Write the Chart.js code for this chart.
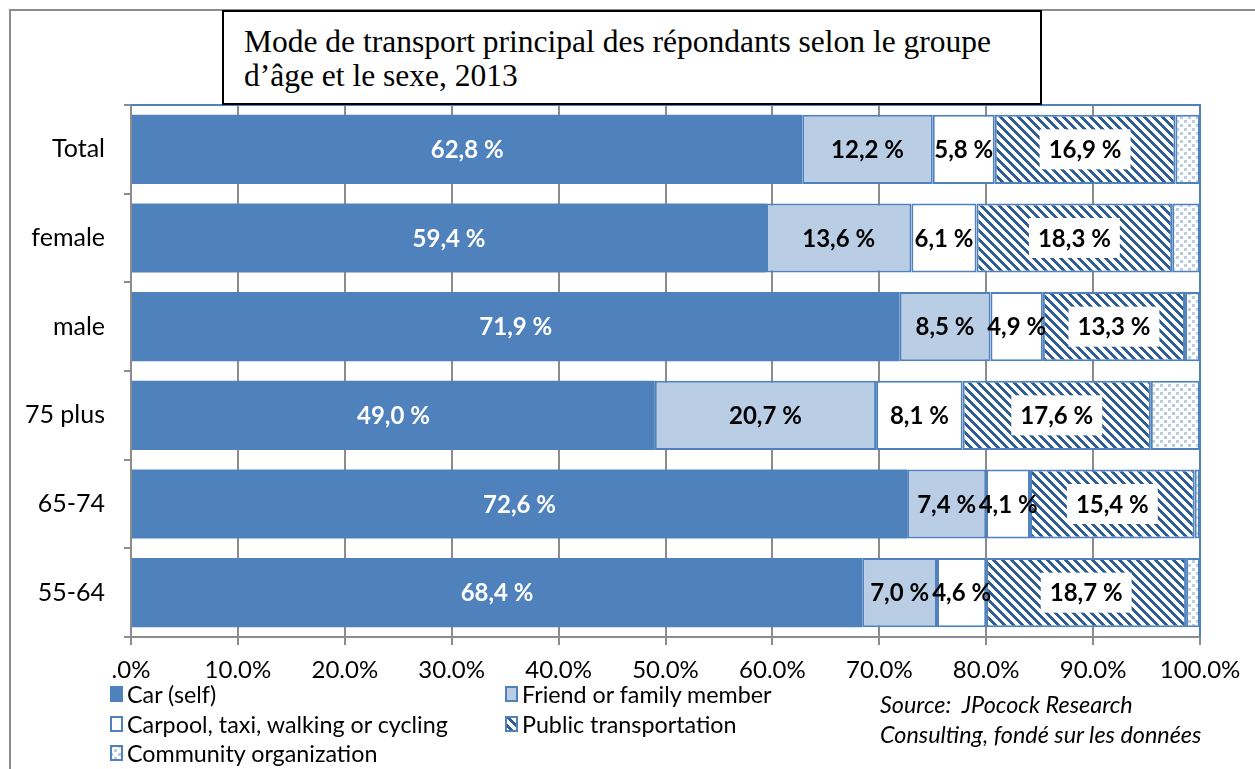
<!DOCTYPE html>
<html>
<head>
<meta charset="utf-8">
<script src="https://cdn.jsdelivr.net/npm/chart.js@4.4.1/dist/chart.umd.min.js"></script>
<style>
  body { margin: 0; background: #fff; }
  #wrap { position: relative; width: 1255px; height: 769px; overflow: hidden; }
  #frame { position: absolute; left: 9px; top: 9px; width: 1300px; height: 800px; border: 2px solid #8c8c8c; }
  #chart { position: absolute; left: 0; top: 0; }
  #title {
    position: absolute; left: 222px; top: 10px; width: 820px; height: 95px;
    box-sizing: border-box; border: 2px solid #000; background: #fff;
    font: 31.5px 'Liberation Serif', serif; line-height: 34px; padding: 13px 0 0 20px; color: #000;
    white-space: nowrap;
  }
  .leg { position: absolute; font: 23.3px Lato, sans-serif; color: #000; white-space: nowrap; line-height: 26px; }
  .leg canvas { position: absolute; left: -17px; top: 5px; }
  .src { position: absolute; left: 880px; font: italic 23.4px Lato, sans-serif; color: #000; white-space: nowrap; }
</style>
</head>
<body>
<div id="wrap">
  <div id="frame"></div>
  <canvas id="chart" width="1255" height="769"></canvas>
  <div id="title">Mode de transport principal des répondants selon le groupe<br>d’âge et le sexe, 2013</div>
  <div id="legend"></div>
  <div class="src" style="top:690px">Source:&nbsp; JPocock Research</div>
  <div class="src" style="top:720px">Consulting, fondé sur les données</div>
</div>
<script>
const categories = ['Total', 'female', 'male', '75 plus', '65-74', '55-64'];
const seriesNames = ['Car (self)', 'Friend or family member', 'Carpool, taxi, walking or cycling', 'Public transportation', 'Community organization'];
const carSelf = [62.8, 59.4, 71.9, 49.0, 72.6, 68.4];
const friendFamily = [12.2, 13.6, 8.5, 20.7, 7.4, 7.0];
const carpoolTaxi = [5.8, 6.1, 4.9, 8.1, 4.1, 4.6];
const publicTransport = [16.9, 18.3, 13.3, 17.6, 15.4, 18.7];
const communityOrg = [2.3, 2.6, 1.4, 4.6, 0.5, 1.3];
const tickLabels = ['.0%', '10.0%', '20.0%', '30.0%', '40.0%', '50.0%', '60.0%', '70.0%', '80.0%', '90.0%', '100.0%'];

const blue = '#4f81bd';
const lightBlue = '#b9cde5';
const darkBlue = '#2f5d95';

function stripePattern(ctx) {
    const n = 9;
    const c = document.createElement('canvas');
    c.width = n; c.height = n;
    const p = c.getContext('2d');
    p.fillStyle = '#fff';
    p.fillRect(0, 0, n, n);
    p.fillStyle = darkBlue;
    for (let r = 0; r < n; r++) {
        for (let k = 0; k < 4; k++) {
            p.fillRect((r + k) % n, r, 1, 1);
        }
    }
    return ctx.createPattern(c, 'repeat');
}

function dotPattern(ctx) {
    const c = document.createElement('canvas');
    c.width = 8; c.height = 8;
    const p = c.getContext('2d');
    p.fillStyle = '#fff';
    p.fillRect(0, 0, 8, 8);
    p.fillStyle = lightBlue;
    p.fillRect(0, 0, 3, 3);
    p.fillRect(4, 4, 3, 3);
    return ctx.createPattern(c, 'repeat');
}

const canvas = document.getElementById('chart');
const ctx = canvas.getContext('2d');

const fills = [blue, lightBlue, '#ffffff', stripePattern(ctx), dotPattern(ctx)];
const values = [carSelf, friendFamily, carpoolTaxi, publicTransport, communityOrg];
const labelColors = ['#ffffff', '#000', '#000', '#000', null];

const datasets = values.map((data, i) => ({
    label: seriesNames[i],
    data: data,
    backgroundColor: fills[i],
    borderColor: blue,
    borderWidth: i === 0 ? 0 : 2,
    borderSkipped: false,
    barPercentage: 0.78,
    categoryPercentage: 1,
    labelColor: labelColors[i],
    labelBox: i === 3
}));

// percentage labels centred in each segment
const segmentLabels = {
    id: 'segmentLabels',
    afterDatasetsDraw(chart) {
        const c = chart.ctx;
        c.save();
        c.font = 'bold 24px Lato';
        c.textAlign = 'center';
        c.textBaseline = 'middle';
        chart.data.datasets.forEach((ds, i) => {
            if (!ds.labelColor) return;
            chart.getDatasetMeta(i).data.forEach((bar, j) => {
                const text = ds.data[j].toFixed(1).replace('.', ',') + ' %';
                const cx = (bar.x + bar.base) / 2;
                if (ds.labelBox) {
                    const w = c.measureText(text).width + 18;
                    c.fillStyle = '#fff';
                    c.fillRect(cx - w / 2, bar.y - 20, w, 40);
                }
                c.fillStyle = ds.labelColor;
                c.fillText(text, cx, bar.y + 1);
            });
        });
        c.restore();
    }
};

// blue top and right edge of the plot area
const plotEdge = {
    id: 'plotEdge',
    afterDatasetsDraw(chart) {
        const a = chart.chartArea;
        const c = chart.ctx;
        c.save();
        c.strokeStyle = blue;
        c.lineWidth = 2;
        c.beginPath();
        c.moveTo(a.left, a.top);
        c.lineTo(a.right, a.top);
        c.lineTo(a.right, a.bottom);
        c.stroke();
        c.restore();
    }
};

new Chart(ctx, {
    type: 'bar',
    data: { labels: categories, datasets: datasets },
    options: {
        responsive: false,
        animation: false,
        indexAxis: 'y',
        layout: { padding: { top: 105, left: 0, right: 55, bottom: 82 } },
        plugins: {
            legend: { display: false },
            tooltip: { enabled: false }
        },
        scales: {
            x: {
                stacked: true,
                min: 0,
                max: 100,
                afterFit: scale => { scale.height = 50; },
                afterBuildTicks: scale => {
                    scale.ticks = tickLabels.map((t, i) => ({ value: i * 10 }));
                },
                ticks: {
                    autoSkip: false,
                    maxRotation: 0,
                    padding: 11,
                    color: '#000',
                    font: { family: 'Lato', size: 24 },
                    callback: (v, i) => tickLabels[i]
                },
                grid: { color: '#8c8c8c', lineWidth: 2, tickLength: 8 },
                border: { color: '#8c8c8c', width: 2 }
            },
            y: {
                stacked: true,
                afterFit: scale => { scale.width = 131; },
                ticks: {
                    padding: 19,
                    color: '#000',
                    font: { family: 'Lato', size: 25 }
                },
                grid: { drawOnChartArea: false, color: '#8c8c8c', lineWidth: 2, tickLength: 7, offset: true },
                border: { color: '#8c8c8c', width: 2 }
            }
        }
    },
    plugins: [segmentLabels, plotEdge]
});

// legend laid out in two columns like the original
const legendPos = [[127, 681], [522, 681], [127, 711], [522, 711], [127, 740]];
const legend = document.getElementById('legend');
seriesNames.forEach((name, i) => {
    const item = document.createElement('div');
    item.className = 'leg';
    item.style.left = legendPos[i][0] + 'px';
    item.style.top = legendPos[i][1] + 'px';
    const m = document.createElement('canvas');
    m.width = 13; m.height = 16;
    const mc = m.getContext('2d');
    mc.fillStyle = fills[i];
    mc.fillRect(0, 0, 13, 16);
    if (i > 0) {
        mc.strokeStyle = blue;
        mc.lineWidth = 2;
        mc.strokeRect(1, 1, 11, 14);
    }
    item.appendChild(m);
    item.appendChild(document.createTextNode(name));
    legend.appendChild(item);
});
</script>
</body>
</html>
